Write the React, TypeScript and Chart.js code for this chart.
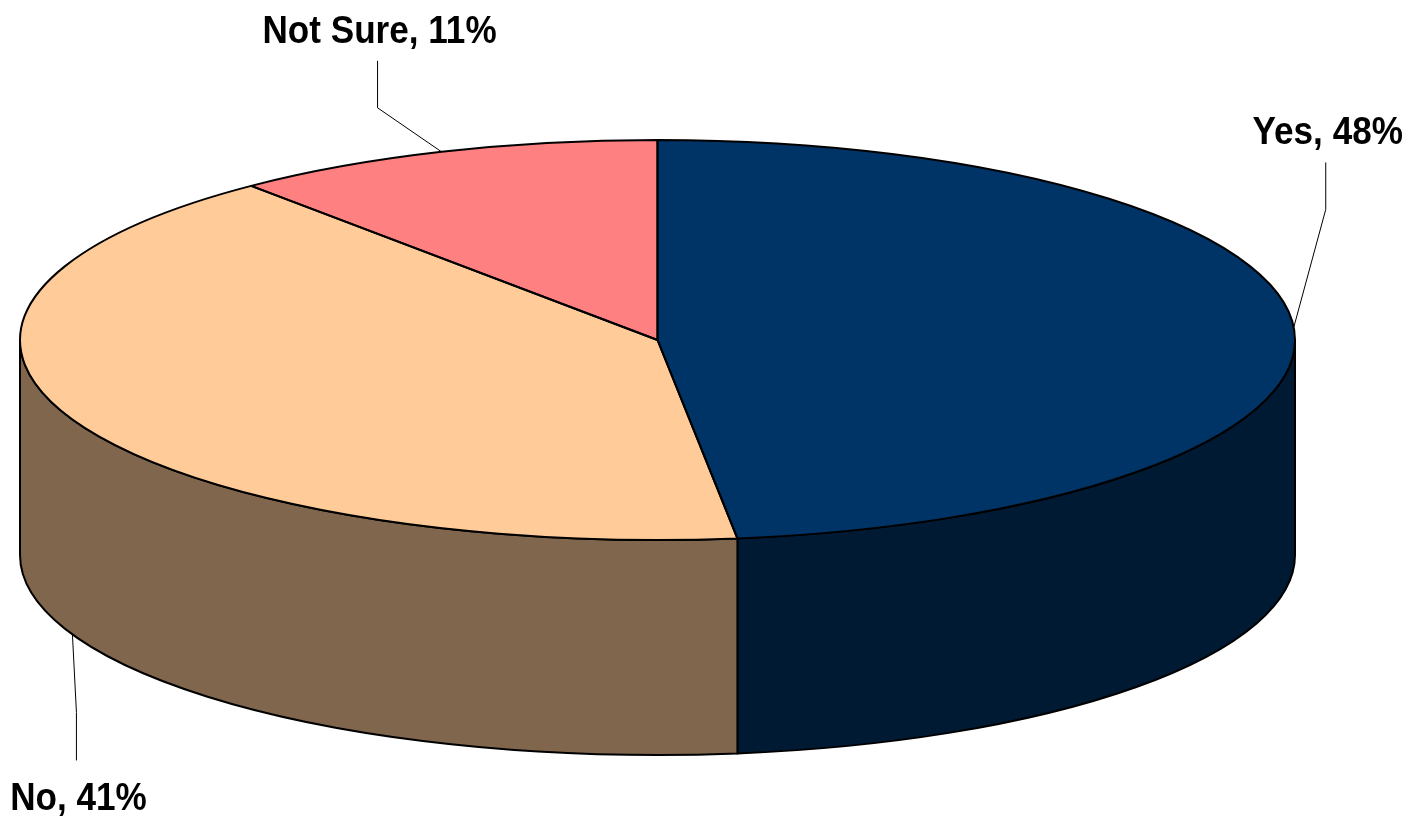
import React, { useEffect, useRef } from "react";
import { Chart, registerables } from "chart.js";

Chart.register(...registerables);

// ---- data ----
const categories = ["Yes", "No", "Not Sure"];
const shares = [48, 41, 11];
const topColors = ["#003366", "#FFCC99", "#FF8080"];
const sideColors = ["#001A33", "#80664D", "#804040"];

// ---- layout (not data) ----
const CANVAS_W = 1419;
const CANVAS_H = 825;
const DEPTH = 215; // thickness of the 3D pie wall
const leaderElbow: number[][] = [
  [32, -118],
  [4, 78],
  [-64, -44],
];
const leaderEndDy = [-165, 126, -91];

const pie3d = {
  id: "pie3d",
  beforeDatasetsDraw(chart: any) {
    const meta = chart.getDatasetMeta(0);
    const arcs = meta.data;
    if (!arcs.length) return;
    const ca = chart.chartArea;
    const cx = (ca.left + ca.right) / 2;
    const cy = (ca.top + ca.bottom) / 2;
    const rx = (ca.right - ca.left) / 2;
    const ry = (ca.bottom - ca.top) / 2;
    const ctx = chart.ctx as CanvasRenderingContext2D;
    arcs.forEach((a: any, i: number) => {
      const s = a.startAngle;
      const e = a.endAngle;
      for (let k = -1; k <= 1; k++) {
        const lo = Math.max(s, k * 2 * Math.PI);
        const hi = Math.min(e, k * 2 * Math.PI + Math.PI);
        if (hi <= lo) continue;
        ctx.beginPath();
        ctx.ellipse(cx, cy, rx, ry, 0, lo, hi, false);
        ctx.lineTo(cx + rx * Math.cos(hi), cy + ry * Math.sin(hi) + DEPTH);
        ctx.ellipse(cx, cy + DEPTH, rx, ry, 0, hi, lo, true);
        ctx.closePath();
        ctx.fillStyle = sideColors[i % sideColors.length];
        ctx.fill();
        ctx.lineWidth = 2;
        ctx.lineJoin = "round";
        ctx.strokeStyle = "#000";
        ctx.stroke();
      }
    });
    const a0 = arcs[0];
    const R = a0.outerRadius || 1;
    ctx.save();
    ctx.translate(cx, cy);
    ctx.scale(rx / R, ry / R);
    ctx.translate(-a0.x, -a0.y);
  },
  afterDatasetsDraw(chart: any) {
    const meta = chart.getDatasetMeta(0);
    const arcs = meta.data;
    if (!arcs.length) return;
    const ctx = chart.ctx as CanvasRenderingContext2D;
    ctx.restore();
    const ca = chart.chartArea;
    const cx = (ca.left + ca.right) / 2;
    const cy = (ca.top + ca.bottom) / 2;
    const rx = (ca.right - ca.left) / 2;
    const ry = (ca.bottom - ca.top) / 2;
    // outlines of top face
    arcs.forEach((a: any) => {
      const s = a.startAngle;
      const e = a.endAngle;
      ctx.beginPath();
      ctx.moveTo(cx, cy);
      ctx.lineTo(cx + rx * Math.cos(s), cy + ry * Math.sin(s));
      ctx.ellipse(cx, cy, rx, ry, 0, s, e, false);
      ctx.closePath();
      ctx.lineWidth = 2;
      ctx.lineJoin = "round";
      ctx.strokeStyle = "#000";
      ctx.stroke();
    });
    // labels with leader lines
    const labels = chart.data.labels as string[];
    const values = chart.data.datasets[0].data as number[];
    arcs.forEach((a: any, i: number) => {
      const mid = (a.startAngle + a.endAngle) / 2;
      const front = Math.sin(mid) > 0;
      const px = cx + rx * Math.cos(mid);
      const py = cy + ry * Math.sin(mid) + (front ? DEPTH : 0);
      const ex = px + leaderElbow[i][0];
      const ey = py + leaderElbow[i][1];
      const endY = py + leaderEndDy[i];
      ctx.beginPath();
      ctx.moveTo(px, py);
      ctx.lineTo(ex, ey);
      ctx.lineTo(ex, endY);
      ctx.lineWidth = 1;
      ctx.strokeStyle = "#000";
      ctx.stroke();
      const below = endY > py;
      const baseline = below ? endY + 50 : endY - 18;
      ctx.save();
      ctx.translate(ex + 2, baseline);
      ctx.scale(0.9, 1);
      ctx.font = "bold 39px 'Liberation Sans', Arial, sans-serif";
      ctx.textAlign = "center";
      ctx.textBaseline = "alphabetic";
      ctx.fillStyle = "#000";
      ctx.fillText(`${labels[i]}, ${values[i]}%`, 0, 0);
      ctx.restore();
    });
  },
};

export default function App() {
  const ref = useRef<HTMLCanvasElement | null>(null);
  useEffect(() => {
    if (!ref.current) return;
    const chart = new Chart(ref.current, {
      type: "pie",
      data: {
        labels: categories,
        datasets: [
          {
            data: shares,
            backgroundColor: topColors,
            borderWidth: 0,
            hoverOffset: 0,
            offset: 0,
            clip: false,
          } as any,
        ],
      },
      options: {
        responsive: false,
        animation: false,
        events: [],
        devicePixelRatio: 1,
        layout: { padding: { left: 20, right: 124, top: 140, bottom: 285 } },
        plugins: {
          legend: { display: false },
          tooltip: { enabled: false },
        },
      } as any,
      plugins: [pie3d as any],
    });
    return () => chart.destroy();
  }, []);
  return (
    <div style={{ position: "absolute", left: 0, top: 0, width: CANVAS_W, height: CANVAS_H, background: "#fff" }}>
      <canvas ref={ref} width={CANVAS_W} height={CANVAS_H} />
    </div>
  );
}
